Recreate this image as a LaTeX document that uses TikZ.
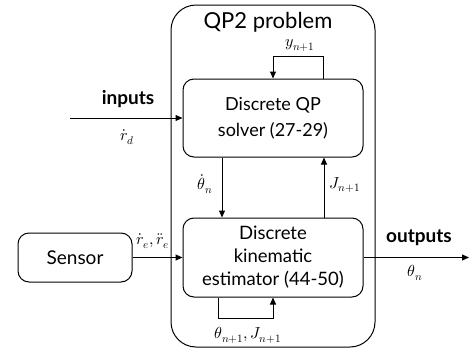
\documentclass[tikz,border=0pt]{standalone}
\usepackage{fontspec}
\usepackage{unicode-math}
\setmainfont{Lato}
\setmathfont{Latin Modern Math}
\usetikzlibrary{arrows.meta}
\begin{document}
\begin{tikzpicture}[x=1pt,y=-1pt,
  block/.style={draw, line width=1pt, rounded corners=11, align=center, inner sep=0pt},
  arr/.style={line width=1pt, -{Triangle[length=7pt,width=6pt]}},
  lbl/.style={font=\fontsize{16}{18}\selectfont, inner sep=0pt},
  head/.style={font=\fontsize{19}{20}\selectfont\bfseries, inner sep=0pt}]
\useasboundingbox (0,0) rectangle (469,351);

% outer container
\node[draw, line width=1pt, rounded corners=25, minimum width=204, minimum height=342, inner sep=0pt] (outer) at (273,176) {};
\node[font=\fontsize{22}{24}\selectfont, inner sep=0pt] (title) at (268,22) {QP2 problem};

% blocks
\node[block, minimum width=180, minimum height=78, font=\fontsize{18}{26}\selectfont] (qp) at (273,118) {Discrete QP\\solver (27-29)};
\node[block, minimum width=180, minimum height=79, font=\fontsize{18.5}{23}\selectfont] (est) at (273,257.5) {Discrete\\kinematic\\estimator (44-50)};
\node[block, minimum width=114, minimum height=49, font=\fontsize{19}{22}\selectfont] (sensor) at (75,257.5) {Sensor};

% external end points
\coordinate (in) at (70,118);
\coordinate (out) at (469,257.5);

% inputs
\draw[arr] (in) -- (qp.west);
\node[head] (inlbl) at (128,99) {inputs};
\node[lbl] (rd) at (127,137) {$\dot r_d$};

% sensor feed
\draw[arr] (sensor.east) -- (est.west);
\node[lbl] (re) at (153,241) {$\dot r_e,\ddot r_e$};

% solver <-> estimator
\draw[arr] ([xshift=-51]qp.south) -- ([xshift=-51]est.north);
\node[lbl] (thd) at (205,184) {$\dot\theta_n$};
\draw[arr] ([xshift=51]est.north) -- ([xshift=51]qp.south);
\node[lbl] (jn) at (345,185) {$J_{n+1}$};

% solver self loop
\draw[arr] ([xshift=50]qp.north) -- ++(0,-22) -| (qp.north);
\node[lbl] (yn) at (300,45) {$y_{n+1}$};

% estimator self loop
\draw[arr] ([xshift=-55]est.south) -- ++(0,21) -| (est.south);
\node[lbl] (thn1) at (248,335) {$\theta_{n+1},J_{n+1}$};

% outputs
\draw[arr] (est.east) -- (out);
\node[head] (outlbl) at (419,238) {outputs};
\node[lbl] (thn) at (415,273) {$\theta_n$};
\end{tikzpicture}
\end{document}
